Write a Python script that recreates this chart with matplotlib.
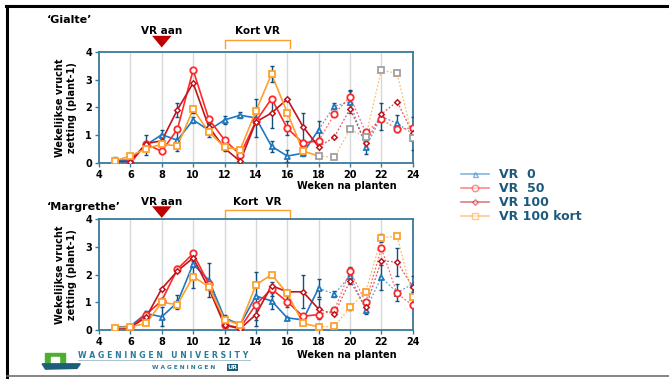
import matplotlib
matplotlib.use("Agg")
import matplotlib.pyplot as plt
from matplotlib.lines import Line2D
from matplotlib.patches import Rectangle, Polygon
import matplotlib.transforms as mtrans

# weeks after planting
weeks = [5, 6, 7, 8, 9, 10, 11, 12, 13, 14, 15, 16, 17, 18, 19, 20, 21, 22, 23, 24]
series_names = ["VR  0", "VR  50", "VR 100", "VR 100 kort"]

# Gialte
g_vr0 = [0.10, 0.10, 0.65, 1.02, 0.82, 1.55, 1.18, 1.55, 1.72, 1.62, 0.60, 0.25, 0.35, 1.20, 2.05, 2.20, 0.56, 1.67, 1.43, 1.05]
g_vr50 = [0.05, 0.00, 0.68, 0.42, 1.22, 3.35, 1.58, 0.83, 0.30, 1.50, 2.32, 1.25, 0.72, 0.80, 1.76, 2.39, 1.10, 1.57, 1.22, 1.26]
g_vr100 = [0.05, 0.05, 0.70, 0.80, 1.92, 2.88, 1.30, 0.53, 0.06, 1.48, 1.80, 2.30, 1.31, 0.58, 0.93, 1.95, 0.71, 1.76, 2.21, 1.07]
g_kort = [0.08, 0.25, 0.52, 0.67, 0.62, 1.93, 1.12, 0.57, 0.48, 1.87, 3.20, 1.81, 0.43, 0.25, 0.20, 1.21, 0.95, 3.34, 3.23, 0.89]
g_vr0_err = [0.10, 0.05, 0.35, 0.15, 0.40, 0.10, 0.25, 0.15, 0.10, 0.70, 0.20, 0.20, 0.10, 0.30, 0.10, 0.40, 0.25, 0.50, 0.30, 0.60]
g_vr50_err = [0, 0, 0, 0, 0, 0, 0, 0, 0, 0, 0, 0.25, 0, 0, 0, 0.25, 0, 0, 0, 0]
g_vr100_err = [0, 0, 0, 0, 0.25, 0, 0.10, 0.10, 0, 0, 0.55, 0, 0.50, 0, 0, 0, 0, 0, 0, 0]
g_kort_err = [0, 0, 0, 0, 0, 0.12, 0, 0, 0, 0, 0.30, 0, 0, 0, 0, 0, 0, 0, 0, 0.10]

# Margrethe
m_vr0 = [0.10, 0.14, 0.60, 0.48, 1.00, 2.38, 1.80, 0.44, 0.20, 1.23, 1.05, 0.44, 0.37, 1.51, 1.30, 1.95, 0.74, 1.90, 1.35, 1.66]
m_vr50 = [0.05, 0.10, 0.56, 1.06, 2.20, 2.76, 1.66, 0.20, 0.08, 0.92, 1.48, 1.02, 0.50, 0.56, 0.71, 2.13, 1.01, 2.94, 1.32, 0.89]
m_vr100 = [0.05, 0.10, 0.46, 1.49, 2.13, 2.60, 1.50, 0.18, 0.05, 0.56, 1.60, 1.38, 1.38, 0.76, 0.58, 1.77, 0.82, 2.50, 2.45, 1.56]
m_kort = [0.08, 0.12, 0.24, 1.00, 0.92, 1.93, 1.56, 0.38, 0.19, 1.63, 2.00, 1.32, 0.24, 0.12, 0.13, 0.82, 1.37, 3.32, 3.39, 1.20]
m_vr0_err = [0.05, 0.05, 0.10, 0.35, 0.25, 0.10, 0.60, 0.10, 0.10, 0.85, 0.30, 0.05, 0.05, 0.33, 0.10, 0.30, 0.15, 0.45, 0.30, 0.30]
m_vr50_err = [0, 0, 0, 0, 0.10, 0, 0, 0, 0, 0, 0.25, 0.20, 0, 0, 0, 0.15, 0, 0, 0, 0]
m_vr100_err = [0, 0, 0, 0, 0, 0, 0, 0, 0, 0.40, 0, 0.05, 0.60, 0.35, 0, 0, 0, 0, 0.50, 0]
m_kort_err = [0, 0, 0, 0, 0, 0.40, 0, 0, 0, 0, 0, 0, 0, 0, 0, 0.10, 0, 0.15, 0, 0]

colors = ["#1f78c1", "#ff2a2a", "#c0141e", "#ffa02e"]
markers = ["^", "o", "D", "s"]
msizes = [3.6, 4.6, 2.8, 4.6]
axis_col = "#3a7a9c"
err_col = "#14507a"
text_blue = "#1b5a7e"
split = 13  # index of week 18: solid before, dotted after


def draw_panel(ax, vals, errs, gray_tail=False):
    for k, (y, e) in enumerate(zip(vals, errs)):
        c = colors[k]
        ax.plot(weeks[:split + 1], y[:split + 1], color=c, lw=1.2, zorder=2)
        ax.plot(weeks[split:], y[split:], color=c, lw=0.9, ls=(0, (1.5, 1.5)), alpha=0.7, zorder=2)
        ax.errorbar(weeks, y, yerr=e, fmt="none", ecolor=err_col, elinewidth=1.0,
                    capsize=1.5, capthick=1.0, zorder=3)
        mc = [c] * len(weeks)
        if gray_tail and k == 3:
            mc = [c] * split + ["#a0a0a0"] * (len(weeks) - split)
        for x, v, col in zip(weeks, y, mc):
            ax.plot(x, v, marker=markers[k], ms=msizes[k], mfc="white", mec=col,
                    mew=1.3 if k != 2 else 1.1, zorder=4)
    ax.set_xlim(4, 24)
    ax.set_ylim(0, 4)
    ax.set_xticks(range(4, 25, 2))
    ax.set_yticks(range(0, 5))
    for xg in range(6, 24, 2):
        ax.axvline(xg, color="#d8d8d8", lw=1.0, zorder=0)
    for s in ax.spines.values():
        s.set_color(axis_col)
        s.set_linewidth(1.3)
    ax.tick_params(axis="both", length=3, width=1, color=axis_col, labelsize=7, pad=2)
    for lab in ax.get_xticklabels() + ax.get_yticklabels():
        lab.set_fontweight("bold")
    ax.set_ylabel("Wekelijkse vrucht\nzetting (plant-1)", fontsize=7, fontweight="bold",
                  labelpad=6, linespacing=1.2)


def annotate_panel(ax, kort_label, txt_y, arr_top, arr_bot, br_top, br_bot):
    tr = mtrans.blended_transform_factory(ax.transData, ax.transAxes)
    ax.text(8, txt_y, "VR aan", transform=tr, ha="center", va="center",
            fontsize=7.5, fontweight="bold")
    ax.annotate("", xy=(8, arr_bot), xytext=(8, arr_top), xycoords=tr, textcoords=tr,
                arrowprops=dict(arrowstyle="simple,head_width=1.0,head_length=0.6,tail_width=0.55",
                                color="#c00000", lw=0, mutation_scale=14,
                                shrinkA=0, shrinkB=0))
    ax.plot([12, 12, 16.2, 16.2], [br_bot, br_top, br_top, br_bot], transform=tr,
            color="#ffa02e", lw=1.0, clip_on=False)
    ax.text(14.1, txt_y, kort_label, transform=tr, ha="center", va="center",
            fontsize=7.5, fontweight="bold")


fig = plt.figure(figsize=(6.69, 3.79), dpi=100)

ax1 = fig.add_axes([0.148, 0.570, 0.469, 0.293])
draw_panel(ax1, [g_vr0, g_vr50, g_vr100, g_kort],
           [g_vr0_err, g_vr50_err, g_vr100_err, g_kort_err], gray_tail=True)
annotate_panel(ax1, "Kort VR", 1.19, 1.14, 1.04, 1.11, 1.035)

ax2 = fig.add_axes([0.148, 0.129, 0.469, 0.293])
draw_panel(ax2, [m_vr0, m_vr50, m_vr100, m_kort],
           [m_vr0_err, m_vr50_err, m_vr100_err, m_kort_err])
annotate_panel(ax2, "Kort  VR", 1.155, 1.105, 1.01, 1.085, 1.01)

fig.text(0.070, 0.947, "\u2018Gialte\u2019", fontsize=8, fontweight="bold", va="center")
fig.text(0.070, 0.454, "\u2018Margrethe\u2019", fontsize=8, fontweight="bold", va="center")
fig.text(0.444, 0.508, "Weken na planten", fontsize=7, fontweight="bold", va="center")
fig.text(0.444, 0.064, "Weken na planten", fontsize=7, fontweight="bold", va="center")

# legend
handles = []
for k in range(4):
    handles.append(Line2D([], [], color=colors[k], alpha=0.55, lw=1.2, marker=markers[k],
                          ms=msizes[k], mfc="white", mec=colors[k], mew=1.0))
leg = fig.legend(handles, series_names, loc="upper left", bbox_to_anchor=(0.682, 0.57),
                 frameon=False, fontsize=9, handlelength=2.2, handletextpad=0.8,
                 labelspacing=0.08, borderaxespad=0)
for t in leg.get_texts():
    t.set_color(text_blue)
    t.set_fontweight("bold")

# slide frame
fig.add_artist(Line2D([0.009, 1.0], [0.984, 0.984], color="black", lw=2.2))
fig.add_artist(Line2D([0.010, 0.010], [0.006, 0.984], color="black", lw=2.2))
fig.add_artist(Line2D([0.010, 1.0], [0.007, 0.007], color="#707070", lw=1.2))

# logo
fig.add_artist(Rectangle((0.067, 0.042), 0.030, 0.027, color="#4caf2e"))
fig.add_artist(Rectangle((0.076, 0.042), 0.012, 0.016, color="white"))
fig.add_artist(Polygon([[0.063, 0.040], [0.12, 0.040], [0.115, 0.028], [0.068, 0.026]],
                       closed=True, color="#1d5f7a"))
fig.text(0.117, 0.063, "W A G E N I N G E N   U N I V E R S I T Y", fontsize=5.6,
         color="#2a7a9a", fontweight="bold", va="center")
fig.add_artist(Line2D([0.117, 0.373], [0.050, 0.050], color="#9ab8c8", lw=0.6))
fig.text(0.227, 0.030, "W A G E N I N G E N", fontsize=4.2, color="#2a7a9a",
         fontweight="bold", va="center")
fig.text(0.340, 0.030, "UR", fontsize=4.5, color="white", fontweight="bold", va="center",
         bbox=dict(boxstyle="square,pad=0.15", fc="#1d5f7a", ec="none"))

fig.savefig("out.png", dpi=100)
